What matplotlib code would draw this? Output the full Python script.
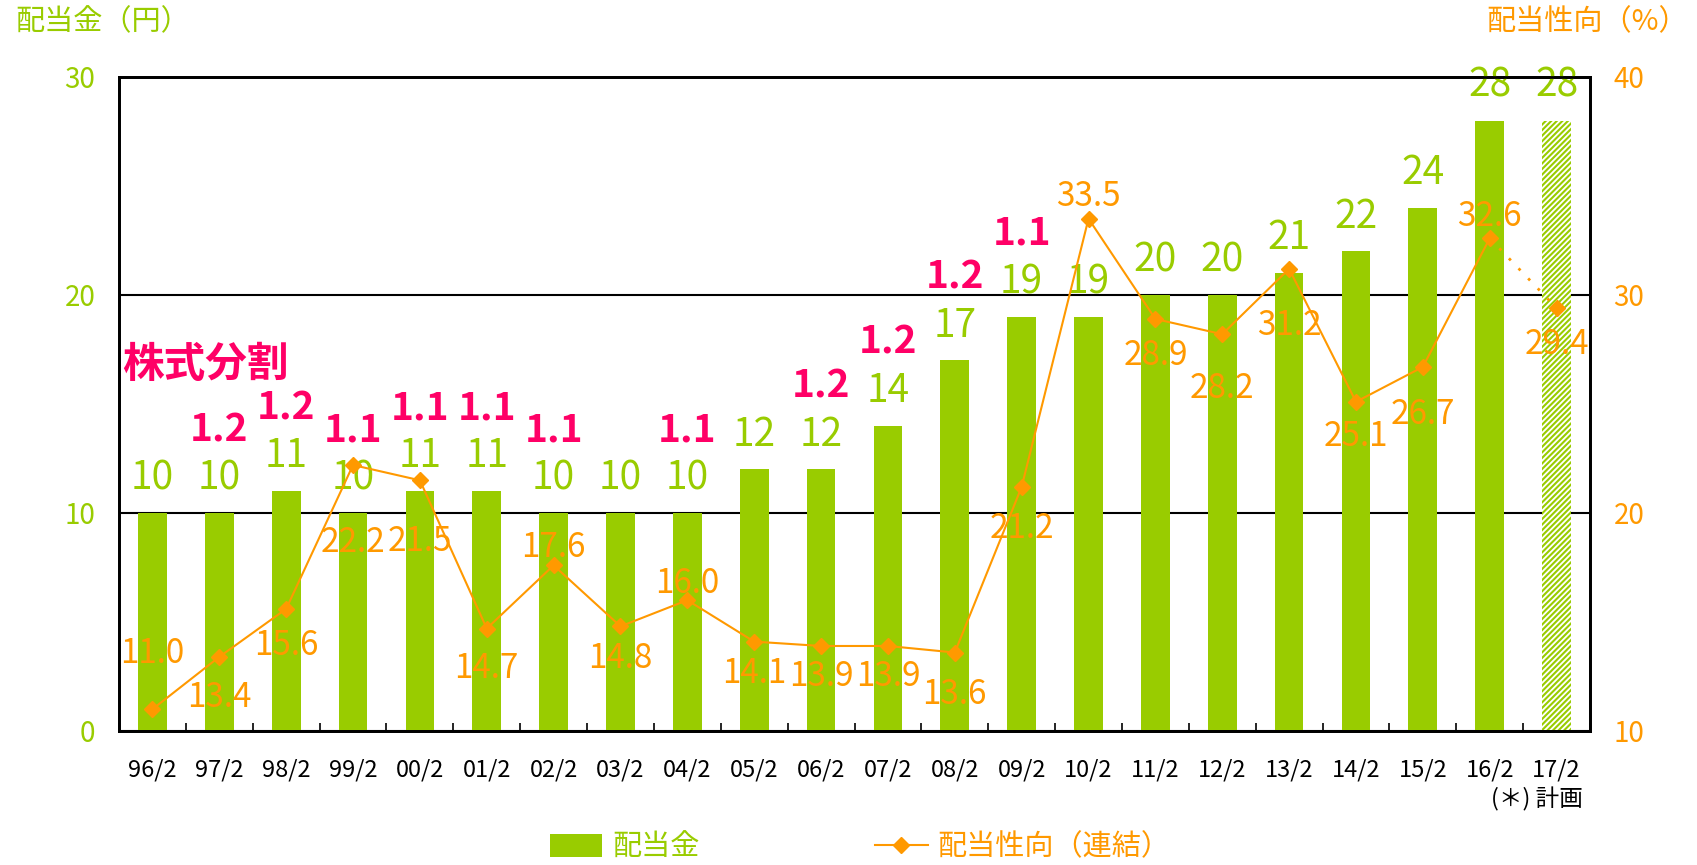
import numpy as np
import matplotlib
matplotlib.use("Agg")
import matplotlib.pyplot as plt
from matplotlib.patches import Patch
from matplotlib.lines import Line2D
from matplotlib.transforms import blended_transform_factory

plt.rcParams['font.family'] = ['Noto Sans CJK JP', 'DejaVu Sans']
plt.rcParams['hatch.linewidth'] = 1.5

GREEN = '#99CC00'
ORANGE = '#FF9900'
PINK = '#FF0066'

# data
years = ['96/2', '97/2', '98/2', '99/2', '00/2', '01/2', '02/2', '03/2', '04/2', '05/2', '06/2',
         '07/2', '08/2', '09/2', '10/2', '11/2', '12/2', '13/2', '14/2', '15/2', '16/2', '17/2']
dividend = [10, 10, 11, 10, 11, 11, 10, 10, 10, 12, 12, 14, 17, 19, 19, 20, 20, 21, 22, 24, 28, 28]
payout = [11.0, 13.4, 15.6, 22.2, 21.5, 14.7, 17.6, 14.8, 16.0, 14.1, 13.9, 13.9, 13.6, 21.2,
          33.5, 28.9, 28.2, 31.2, 25.1, 26.7, 32.6, 29.4]
split_ratio = {'97/2': '1.2', '98/2': '1.2', '99/2': '1.1', '00/2': '1.1', '01/2': '1.1',
               '02/2': '1.1', '04/2': '1.1', '06/2': '1.2', '07/2': '1.2', '08/2': '1.2',
               '09/2': '1.1'}

# label offsets (points, positive = below the marker)
payout_dy = [-40, 29, 26, 56, 44, 29, -13, 23, -12, 23, 22, 22, 30, 30, -16, 26, 39, 41, 25, 34, -16, 26]

x = np.arange(len(years))
n_act = len(years) - 1  # last one is the plan

fig = plt.figure(figsize=(16.97, 8.65), dpi=100)
fig.subplots_adjust(left=119/1697, right=1590/1697, top=1-77/865, bottom=1-731/865)
ax = fig.add_subplot(111)
ax2 = ax.twinx()

ax.bar(x[:n_act], dividend[:n_act], width=0.43, color=GREEN, zorder=2)
ax.bar(x[n_act:], dividend[n_act:], width=0.43, color='white', edgecolor=GREEN,
       hatch='//////', linewidth=0, zorder=2)

for i, v in enumerate(dividend):
    ax.annotate(str(v), (x[i], v), xytext=(0, 25), textcoords='offset points',
                ha='center', va='center', color=GREEN, fontsize=28)
    if years[i] in split_ratio:
        ax.annotate(split_ratio[years[i]], (x[i], v), xytext=(0, 60), textcoords='offset points',
                    ha='center', va='center', color=PINK, fontsize=28, fontweight='bold')

ax.text(-0.46, 16.8, '株式分割', color=PINK, fontsize=30, fontweight='bold', ha='left', va='center')

ax.set_xlim(-0.5, len(years) - 0.5)
ax.set_ylim(0, 30)
ax.set_yticks([0, 10, 20, 30])
ax.set_xticks(x)
ax.set_xticklabels(years)
ax.set_xticks(np.arange(-0.5, len(years), 1.0), minor=True)
ax.tick_params(axis='x', which='major', length=0, pad=20, labelsize=17)
ax.tick_params(axis='x', which='minor', direction='in', length=6, width=1.2, color='black')
ax.tick_params(axis='y', length=0, pad=17, labelsize=20, labelcolor=GREEN)
ax.yaxis.grid(True, color='black', linewidth=1.5)
ax.set_axisbelow(True)

ax2.plot(x[:n_act], payout[:n_act], color=ORANGE, linewidth=1.5, marker='D', markersize=8, zorder=3)
ax2.plot(x[n_act - 1:], payout[n_act - 1:], color=ORANGE, linewidth=2, linestyle=(0, (1, 4)), zorder=3)
ax2.plot(x[n_act:], payout[n_act:], color=ORANGE, linestyle='none', marker='D', markersize=8, zorder=3)
for i, v in enumerate(payout):
    ax2.annotate(f'{v:.1f}', (x[i], v), xytext=(0, -payout_dy[i]), textcoords='offset points',
                 ha='center', va='center', color=ORANGE, fontsize=24)
ax2.set_ylim(10, 40)
ax2.set_yticks([10, 20, 30, 40])
ax2.tick_params(axis='y', length=0, pad=17, labelsize=20, labelcolor=ORANGE)

for a in (ax, ax2):
    for s in a.spines.values():
        s.set_linewidth(2)
        s.set_color('black')

tr = blended_transform_factory(ax.transData, ax.transAxes)
ax.text(21.4, -0.105, '(＊) 計画', transform=tr, ha='right', va='center', fontsize=17)

fig.text(15/1697, 1 - 22/865, '配当金（円）', color=GREEN, fontsize=21, ha='left', va='center')
fig.text(1688/1697, 1 - 22/865, '配当性向（%）', color=ORANGE, fontsize=21, ha='right', va='center')

handles = [Patch(facecolor=GREEN, edgecolor='none'),
           Line2D([], [], color=ORANGE, linewidth=1.5, marker='D', markersize=8)]
fig.legend(handles, ['配当金', '配当性向（連結）'], loc='center', bbox_to_anchor=(0.507, 0.02),
           ncol=2, frameon=False, fontsize=21, handlelength=1.8, handleheight=0.82,
           columnspacing=6.0, handletextpad=0.35, labelcolor=[GREEN, ORANGE])

fig.savefig('out.png', dpi=100)
